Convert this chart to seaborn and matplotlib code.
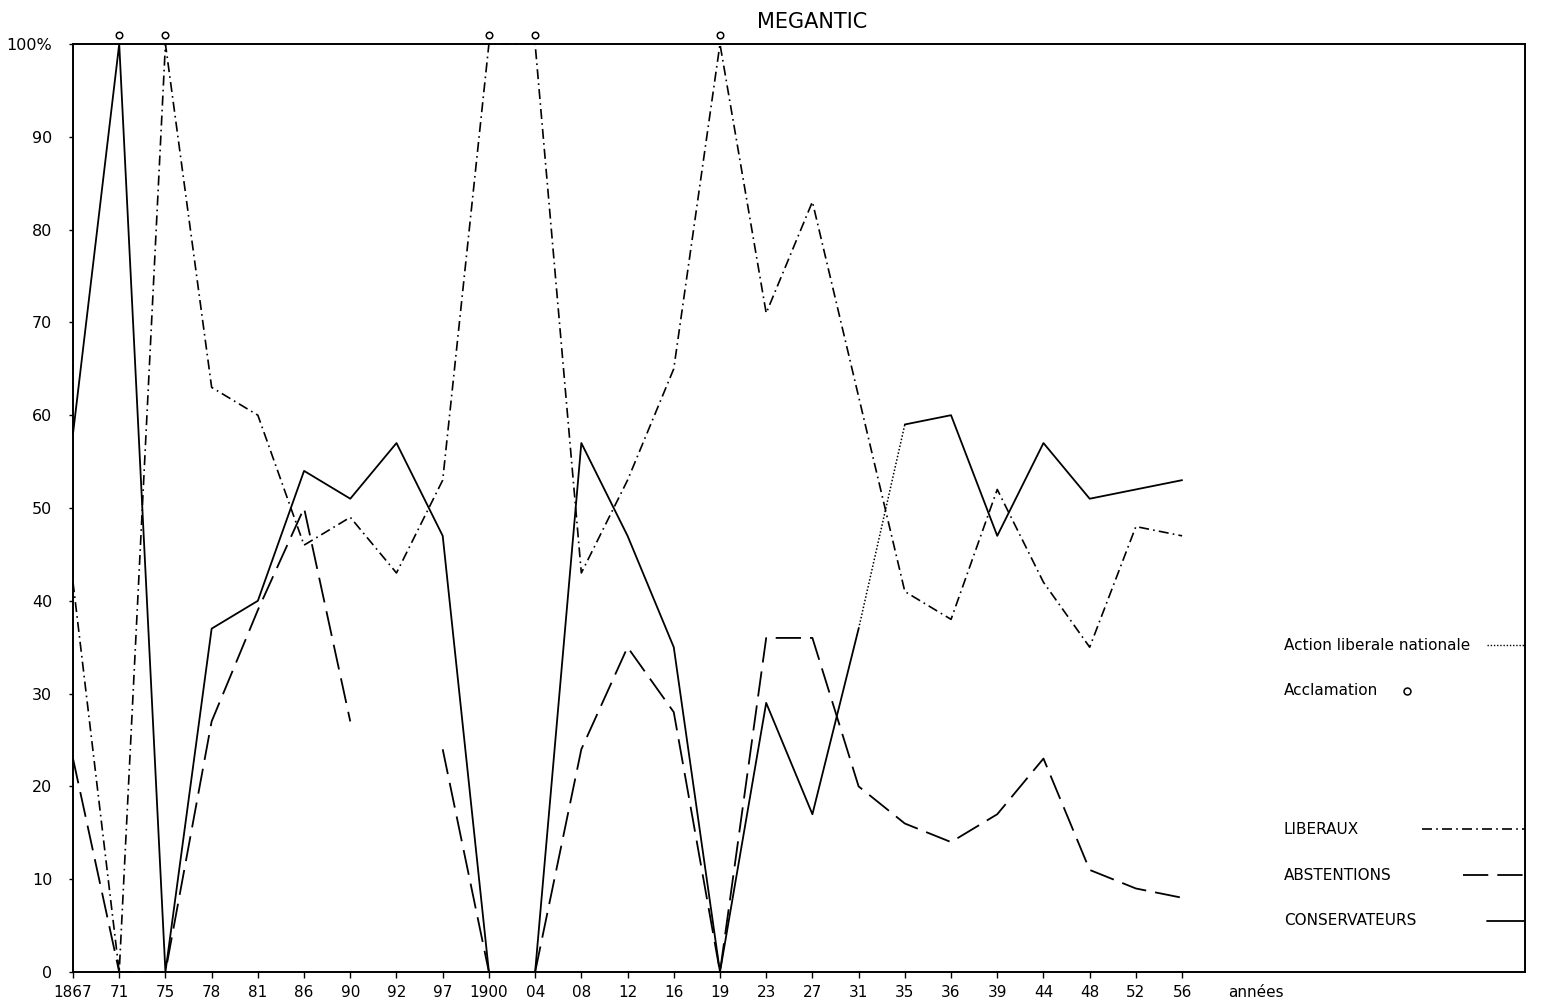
import numpy as np
import pandas as pd
import matplotlib
matplotlib.use("Agg")
import matplotlib.pyplot as plt
import seaborn as sns
from matplotlib.transforms import offset_copy

# Election years (x axis categories)
years = ["1867", "71", "75", "78", "81", "86", "90", "92", "97", "1900", "04", "08",
         "12", "16", "19", "23", "27", "31", "35", "36", "39", "44", "48", "52", "56"]

# Percentages
conservateurs = [58, 100, 0, 37, 40, 54, 51, 57, 47, 0, 0, 57, 47, 35, 0, 29, 17, 37,
                 59, 60, 47, 57, 51, 52, 53]
liberaux = [42, 0, 100, 63, 60, 46, 49, 43, 53, 100, 100, 43, 53, 65, 100, 71, 83, 62,
            41, 38, 52, 42, 35, 48, 47]
abstentions = [23, 0, 0, 27, 39, 50, 27, np.nan, 24, 0, 0, 24, 35, 28, 0, 36, 36, 20,
               16, 14, 17, 23, 11, 9, 8]
action_liberale = [np.nan] * 17 + [37, 59] + [np.nan] * 6

# Years won by acclamation
acclamation_years = ["71", "75", "1900", "04", "19"]

y_ticks = [0, 10, 20, 30, 40, 50, 60, 70, 80, 90, 100]
y_tick_labels = ["0", "10", "20", "30", "40", "50", "60", "70", "80", "90", "100%"]

df = pd.DataFrame({
    "year": years,
    "pos": np.arange(len(years)),
    "cons": conservateurs,
    "lib": liberaux,
    "abst": abstentions,
    "aln": action_liberale,
})
# Conservative line breaks in 1935 (Action liberale nationale), abstentions missing in 1892
df["cons_seg"] = (df["year"] == "35").cumsum()
df["abst_seg"] = df["abst"].isna().cumsum()

acc = df[df["year"].isin(acclamation_years)].copy()
acc["val"] = 100

sns.set_style("ticks")
plt.rcParams["font.family"] = ["DejaVu Sans"]
plt.rcParams["text.color"] = "black"
plt.rcParams["xtick.color"] = "black"
plt.rcParams["ytick.color"] = "black"

fig = plt.figure(figsize=(15.56, 10.05), dpi=100)
ax = fig.add_axes([73 / 1556, 1 - 972 / 1005, 1452 / 1556, 928 / 1005])

sns.lineplot(data=df, x="pos", y="cons", units="cons_seg", estimator=None,
             color="black", lw=1.3, clip_on=False, ax=ax)
sns.lineplot(data=df, x="pos", y="lib", estimator=None, color="black", lw=1.2,
             dashes=(6, 2.5, 1, 2.5), clip_on=False, ax=ax)
sns.lineplot(data=df, x="pos", y="abst", units="abst_seg", estimator=None,
             color="black", lw=1.3, dashes=(14, 5), clip_on=False, ax=ax)
sns.lineplot(data=df, x="pos", y="aln", estimator=None, color="black", lw=1.1,
             dashes=(1, 1.3), clip_on=False, ax=ax)

sns.scatterplot(data=acc, x="pos", y="val", marker="o", s=22, facecolor="white",
                edgecolor="black", linewidth=1.1, clip_on=False, zorder=5,
                transform=offset_copy(ax.transData, fig=fig, y=9, units="dots"), ax=ax)

ax.set_xlim(0, 31.42)
ax.set_ylim(0, 100)
ax.set_xticks(df["pos"])
ax.set_xticklabels(years, fontsize=11)
ax.set_yticks(y_ticks)
ax.set_yticklabels(y_tick_labels, fontsize=11.5)
ax.tick_params(axis="x", direction="out", length=4, width=1, pad=5, colors="black")
ax.tick_params(axis="y", direction="out", length=3, width=1, pad=12, colors="black")
ax.set_xlabel("")
ax.set_ylabel("")
for side in ["top", "bottom", "left", "right"]:
    ax.spines[side].set_visible(True)
    ax.spines[side].set_linewidth(1.4)
    ax.spines[side].set_color("black")

ax.text(25.6, -1.4, "années", ha="center", va="top", fontsize=11)

fig.text(0.522, 0.978, "MEGANTIC", ha="center", va="center", fontsize=15)

# Legend, drawn by hand as in the original
lx = 0.834
ax.text(lx, 0.352, "Action liberale nationale", transform=ax.transAxes,
        fontsize=11, va="center")
ax.plot([0.974, 1.0], [0.352, 0.352], transform=ax.transAxes, color="black",
        lw=1.0, dashes=(1, 1.3))
ax.text(lx, 0.303, "Acclamation", transform=ax.transAxes, fontsize=11, va="center")
ax.plot([0.919], [0.303], transform=ax.transAxes, marker="o", ms=5,
        mfc="white", mec="black", mew=1.1)
ax.text(lx, 0.154, "LIBERAUX", transform=ax.transAxes, fontsize=11, va="center")
ax.plot([0.929, 1.0], [0.154, 0.154], transform=ax.transAxes, color="black",
        lw=1.2, dashes=(6, 2.5, 1, 2.5))
ax.text(lx, 0.1045, "ABSTENTIONS", transform=ax.transAxes, fontsize=11, va="center")
ax.plot([0.957, 1.0], [0.1045, 0.1045], transform=ax.transAxes, color="black",
        lw=1.3, dashes=(14, 5))
ax.text(lx, 0.055, "CONSERVATEURS", transform=ax.transAxes, fontsize=11, va="center")
ax.plot([0.974, 1.0], [0.055, 0.055], transform=ax.transAxes, color="black", lw=1.3)

fig.savefig("out.png", dpi=100)
